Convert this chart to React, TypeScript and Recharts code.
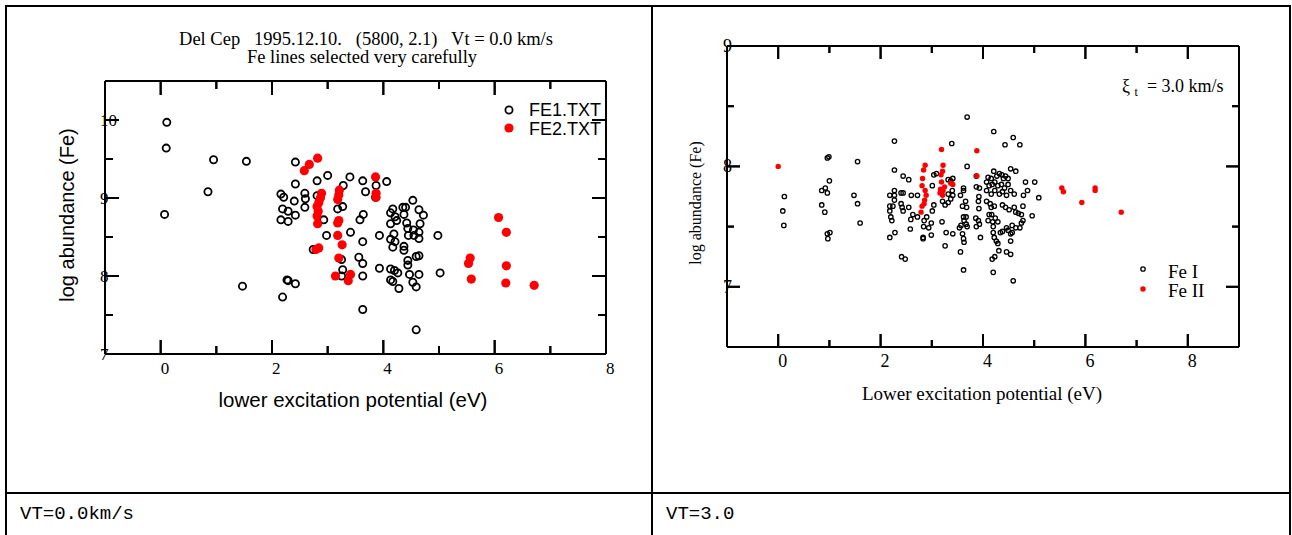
import React from 'react';
import { ScatterChart, Scatter, XAxis, YAxis } from 'recharts';

const SERIF = '"Liberation Serif", "Times New Roman", serif';
const SANS = '"Liberation Sans", Arial, sans-serif';
const MONO = '"Liberation Mono", "Courier New", monospace';

// ─── Data: Vt = 0.0 km/s (left panel) ─────────────────────────────────────────

const fe1Vt0: [number, number][] = [
  [0.11, 9.97], [0.1, 9.64], [0.95, 9.49], [1.54, 9.47], [2.42, 9.46], [0.85, 9.08],
  [2.42, 9.18], [2.81, 9.22], [3.0, 9.29], [3.4, 9.27], [3.63, 9.22], [3.87, 9.16],
  [4.06, 9.21], [3.28, 9.16], [2.16, 9.05], [2.59, 9.06], [4.53, 8.97], [3.68, 9.08],
  [0.07, 8.79], [2.21, 9.01], [2.6, 8.99], [2.4, 8.96], [2.19, 8.86], [2.29, 8.83],
  [2.42, 8.78], [2.59, 8.88], [2.16, 8.72], [2.29, 8.7], [2.81, 9.03], [2.93, 8.72],
  [2.98, 8.52], [3.18, 8.86], [3.27, 8.89], [3.41, 8.56], [3.86, 9.01], [3.64, 8.79],
  [3.58, 8.72], [3.63, 8.44], [3.93, 8.52], [2.74, 8.34], [3.25, 8.21], [3.27, 8.08],
  [3.25, 8.0], [3.56, 8.24], [3.63, 8.16], [3.63, 8.0], [3.93, 8.1], [1.47, 7.87],
  [2.27, 7.95], [2.29, 7.94], [2.42, 7.9], [2.19, 7.73], [3.63, 7.57], [4.59, 7.31],
  [5.02, 8.04], [4.98, 8.52],
  [4.13, 8.81], [4.17, 8.86], [4.21, 8.76], [4.13, 8.67], [4.24, 8.71], [4.35, 8.88],
  [4.4, 8.88], [4.37, 8.79], [4.42, 8.68], [4.44, 8.61], [4.64, 8.85], [4.72, 8.78],
  [4.66, 8.67], [4.54, 8.59], [4.64, 8.56], [4.45, 8.52], [4.55, 8.52], [4.64, 8.48],
  [4.19, 8.54], [4.13, 8.47], [4.21, 8.44], [4.17, 8.37], [4.37, 8.38], [4.37, 8.33],
  [4.59, 8.25], [4.64, 8.26], [4.44, 8.2], [4.44, 8.14], [4.13, 8.09], [4.2, 8.07],
  [4.26, 8.04], [4.47, 8.02], [4.64, 8.02], [4.13, 7.95], [4.17, 7.93], [4.28, 7.84],
  [4.53, 7.92], [4.59, 7.86],
];

const fe2Vt0: [number, number][] = [
  [2.58, 9.35], [2.67, 9.43], [2.82, 9.51], [3.86, 9.27], [2.89, 9.06], [3.21, 9.1],
  [3.87, 9.06], [3.87, 9.01], [2.87, 9.0], [2.84, 8.94], [2.81, 8.89], [2.83, 8.83],
  [2.81, 8.77], [2.82, 8.67], [3.2, 9.04], [3.18, 8.98], [3.2, 8.71], [3.18, 8.68],
  [3.18, 8.52], [3.26, 8.4], [3.2, 8.23], [2.79, 8.34], [2.84, 8.36], [3.14, 8.0],
  [3.41, 8.02], [3.37, 7.94], [6.07, 8.75], [6.21, 8.56], [5.56, 8.23], [5.53, 8.16],
  [5.58, 7.96], [6.21, 8.13], [6.2, 7.91], [6.71, 7.88],
];

// ─── Data: Vt = 3.0 km/s (right panel) ────────────────────────────────────────

const feIVt3: [number, number][] = [
  [3.69, 8.41], [4.21, 8.29], [4.59, 8.24], [4.43, 8.18], [4.72, 8.18], [2.27, 8.21],
  [3.39, 8.19], [1.55, 8.04], [0.96, 8.07], [0.99, 8.08], [3.69, 8.0], [2.27, 7.97],
  [2.44, 7.92], [2.55, 7.89], [3.04, 7.93], [3.09, 7.94], [3.87, 7.92], [4.21, 7.96],
  [4.27, 7.92], [4.32, 7.94], [4.37, 7.93], [4.44, 7.92], [4.54, 7.98], [4.64, 7.96],
  [4.49, 7.9], [4.1, 7.91], [4.16, 7.9], [4.4, 7.9], [3.41, 7.9], [3.37, 7.88],
  [3.32, 7.89], [1.0, 7.88],
  [0.12, 7.75], [0.09, 7.63], [0.11, 7.51], [0.85, 7.8], [0.92, 7.82], [0.96, 7.78],
  [0.85, 7.68], [0.91, 7.62], [0.96, 7.44], [1.01, 7.45], [0.97, 7.4], [1.48, 7.76],
  [1.55, 7.69], [1.6, 7.53],
  [2.18, 7.76], [2.27, 7.8], [2.27, 7.76], [2.27, 7.72], [2.18, 7.67], [2.24, 7.67],
  [2.18, 7.63], [2.2, 7.58], [2.22, 7.55], [2.28, 7.45], [2.18, 7.41], [2.4, 7.78],
  [2.44, 7.78], [2.4, 7.69], [2.42, 7.66], [2.44, 7.63], [2.41, 7.25], [2.48, 7.23],
  [2.6, 7.76], [2.55, 7.66], [2.63, 7.6], [2.59, 7.56], [2.58, 7.48], [2.72, 7.58],
  [2.72, 7.76],
  [2.83, 7.41], [2.83, 7.4], [2.85, 7.55], [2.84, 7.5], [2.9, 7.58], [2.94, 7.49],
  [2.99, 7.53], [2.99, 7.43], [3.01, 7.63], [3.04, 7.68], [3.01, 7.84],
  [3.2, 7.54], [3.28, 7.45], [3.41, 7.44], [3.26, 7.34], [3.21, 7.71], [3.26, 7.68],
  [3.32, 7.7], [3.37, 7.73], [3.41, 7.76], [3.4, 7.8], [3.32, 7.77], [3.56, 7.76],
  [3.62, 7.8], [3.66, 7.71], [3.6, 7.67], [3.68, 7.66], [3.62, 7.58], [3.67, 7.58],
  [3.63, 7.55], [3.57, 7.51], [3.67, 7.52], [3.69, 7.5], [3.54, 7.49], [3.6, 7.44],
  [3.62, 7.4], [3.63, 7.37], [3.56, 7.29], [3.62, 7.14], [3.62, 7.82],
  [3.87, 7.83], [3.93, 7.82], [3.92, 7.75], [3.91, 7.71], [3.92, 7.65], [3.86, 7.57],
  [3.91, 7.55], [3.93, 7.52], [3.87, 7.5], [3.95, 7.41],
  [4.07, 7.87], [4.12, 7.84], [4.18, 7.85], [4.23, 7.87], [4.29, 7.84], [4.36, 7.85],
  [4.42, 7.82], [4.49, 7.85], [4.54, 7.8], [4.61, 7.77], [4.07, 7.8], [4.16, 7.77],
  [4.23, 7.8], [4.32, 7.77], [4.38, 7.79], [4.46, 7.76], [4.07, 7.71], [4.14, 7.69],
  [4.22, 7.67], [4.16, 7.66], [4.38, 7.68], [4.44, 7.66], [4.51, 7.64], [4.61, 7.66],
  [4.64, 7.62], [4.12, 7.6], [4.17, 7.6], [4.24, 7.57], [4.29, 7.54], [4.1, 7.55],
  [4.19, 7.54], [4.2, 7.5], [4.2, 7.45], [4.22, 7.41], [4.26, 7.38], [4.29, 7.36],
  [4.34, 7.45], [4.38, 7.46], [4.46, 7.49], [4.49, 7.47], [4.57, 7.51], [4.54, 7.44],
  [4.54, 7.38], [4.57, 7.45], [4.31, 7.3], [4.18, 7.23], [4.23, 7.25], [4.46, 7.29],
  [4.54, 7.27], [4.2, 7.12], [4.59, 7.05], [4.69, 7.61], [4.75, 7.6], [4.78, 7.55],
  [4.72, 7.49], [4.64, 7.49], [4.75, 7.53], [4.79, 7.76], [4.87, 7.8], [4.96, 7.59],
  [5.09, 7.74], [4.78, 7.67], [4.83, 7.87], [5.01, 7.87],
];

const feIIVt3: [number, number][] = [
  [0.0, 8.0], [3.19, 8.14], [3.88, 8.13], [2.87, 8.01], [2.84, 7.97], [3.22, 8.01],
  [3.21, 7.96], [3.18, 7.93], [3.88, 7.92], [2.82, 7.9], [2.81, 7.84], [2.87, 7.8],
  [2.89, 7.76], [2.85, 7.69], [2.81, 7.67], [2.79, 7.62], [3.19, 7.87], [3.22, 7.8],
  [3.21, 7.76], [3.41, 7.85], [3.37, 7.86], [3.17, 7.81], [3.16, 7.78], [2.86, 7.72],
  [3.25, 7.83], [5.54, 7.82], [5.57, 7.79], [6.19, 7.82], [6.19, 7.8], [5.93, 7.7],
  [6.7, 7.62],
];

// ─── Ticks ────────────────────────────────────────────────────────────────────

const leftXMajor = [0, 2, 4, 6, 8];
const leftXMinor = [1, 3, 5, 7];
const leftYMajor = [7, 8, 9, 10];
const leftYMinor = [7.5, 8.5, 9.5];
const rightXMajor = [0, 2, 4, 6, 8];
const rightXMinor = [1, 3, 5, 7];
const rightYMajor = [7, 8, 9];
const rightYMinor = [7.5, 8.5];

const pts = (arr: [number, number][]) => arr.map(([x, y]) => ({ x, y }));

type Dir = 'up' | 'down' | 'right' | 'left';
interface Mark { x: number; y: number; dir: Dir; len: number }

// inward tick marks on all four sides of the frame
function frameMarks(
  xd: [number, number], yd: [number, number],
  xMaj: number[], xMin: number[], yMaj: number[], yMin: number[],
  long: number, short: number,
): Mark[] {
  const m: Mark[] = [];
  for (const [vals, len] of [[xMaj, long], [xMin, short]] as [number[], number][]) {
    vals.forEach((v) => {
      m.push({ x: v, y: yd[0], dir: 'up', len });
      m.push({ x: v, y: yd[1], dir: 'down', len });
    });
  }
  for (const [vals, len] of [[yMaj, long], [yMin, short]] as [number[], number][]) {
    vals.forEach((v) => {
      m.push({ x: xd[0], y: v, dir: 'right', len });
      m.push({ x: xd[1], y: v, dir: 'left', len });
    });
  }
  return m;
}

const W = 2;
function markRect(cx: number, cy: number, dir: Dir, len: number, key?: number) {
  if (dir === 'up') return <rect key={key} x={cx - W / 2} y={cy - len} width={W} height={len} fill="#000" />;
  if (dir === 'down') return <rect key={key} x={cx - W / 2} y={cy} width={W} height={len} fill="#000" />;
  if (dir === 'right') return <rect key={key} x={cx} y={cy - W / 2} width={len} height={W} fill="#000" />;
  return <rect key={key} x={cx - len} y={cy - W / 2} width={len} height={W} fill="#000" />;
}

const markShape = (p: any) => {
  const { dir, len } = p.payload as Mark;
  return markRect(p.cx, p.cy, dir, len);
};

// same marks again on the page overlay, with the panel's plot box and domains
interface Box { left: number; top: number; width: number; height: number }
function overlayMarks(marks: Mark[], box: Box, xd: [number, number], yd: [number, number]) {
  const sx = (v: number) => box.left + ((v - xd[0]) / (xd[1] - xd[0])) * box.width;
  const sy = (v: number) => box.top + box.height - ((v - yd[0]) / (yd[1] - yd[0])) * box.height;
  return marks.map((m, i) => markRect(sx(m.x), sy(m.y), m.dir, m.len, i));
}

function bottomLabel(dy: number, fontSize: number) {
  return (props: any) => (
    <text x={props.x} y={props.y + dy} textAnchor="start" fontFamily={SERIF} fontSize={fontSize} fill="#000">
      {props.payload.value}
    </text>
  );
}

function leftLabel(dx: number, fontSize: number) {
  return (props: any) => (
    <text x={props.x - dx} y={props.y} textAnchor="start" dominantBaseline="central" fontFamily={SERIF} fontSize={fontSize} fill="#000">
      {props.payload.value}
    </text>
  );
}

const axisLine = { stroke: '#000', strokeWidth: 2 };
const base = { type: 'number' as const, allowDataOverflow: true, tickMargin: 0, tickSize: 0, tickLine: false, interval: 0 as const, axisLine };

// ─── Panels ───────────────────────────────────────────────────────────────────

const LX: [number, number] = [-1, 8];
const LY: [number, number] = [7, 10.5];
const RX: [number, number] = [-1, 9];
const RY: [number, number] = [6.5, 9];
const leftMarks = frameMarks(LX, LY, leftXMajor, leftXMinor, leftYMajor, leftYMinor, 14, 8);
const rightMarks = frameMarks(RX, RY, rightXMajor, rightXMinor, rightYMajor, rightYMinor, 13, 7);
const leftBox: Box = { left: 105, top: 81, width: 501, height: 273 };
const rightBox: Box = { left: 652 + 75, top: 46, width: 512, height: 301 };

function LeftPanel() {
  return (
    <ScatterChart width={652} height={490} margin={{ top: 80, right: 45, bottom: 135, left: 104 }}>
      <XAxis {...base} dataKey="x" xAxisId="b" orientation="bottom" height={1} domain={LX} ticks={leftXMajor} tick={bottomLabel(20, 17)} />
      <XAxis {...base} dataKey="x" xAxisId="t" orientation="top" height={1} domain={LX} ticks={leftXMajor} tick={false} />
      <YAxis {...base} dataKey="y" yAxisId="l" orientation="left" width={1} domain={LY} ticks={leftYMajor} tick={leftLabel(5, 17)} />
      <YAxis {...base} dataKey="y" yAxisId="r" orientation="right" width={1} domain={LY} ticks={leftYMajor} tick={false} />
      <Scatter data={leftMarks} xAxisId="b" yAxisId="l" isAnimationActive={false} shape={markShape} />
      <Scatter data={pts(fe1Vt0)} xAxisId="b" yAxisId="l" isAnimationActive={false}
        shape={(p: any) => <circle cx={p.cx} cy={p.cy} r={3.6} fill="none" stroke="#000" strokeWidth={1.8} />} />
      <Scatter data={pts(fe2Vt0)} xAxisId="b" yAxisId="l" isAnimationActive={false}
        shape={(p: any) => <circle cx={p.cx} cy={p.cy} r={4.6} fill="#ff0000" />} />
    </ScatterChart>
  );
}

function RightPanel() {
  return (
    <ScatterChart width={637} height={490} margin={{ top: 45, right: 49, bottom: 142, left: 74 }}>
      <XAxis {...base} dataKey="x" xAxisId="b" orientation="bottom" height={1} domain={RX} ticks={rightXMajor} tick={bottomLabel(20, 18)} />
      <XAxis {...base} dataKey="x" xAxisId="t" orientation="top" height={1} domain={RX} ticks={rightXMajor} tick={false} />
      <YAxis {...base} dataKey="y" yAxisId="l" orientation="left" width={1} domain={RY} ticks={rightYMajor} tick={leftLabel(4, 18)} />
      <YAxis {...base} dataKey="y" yAxisId="r" orientation="right" width={1} domain={RY} ticks={rightYMajor} tick={false} />
      <Scatter data={rightMarks} xAxisId="b" yAxisId="l" isAnimationActive={false} shape={markShape} />
      <Scatter data={pts(feIVt3)} xAxisId="b" yAxisId="l" isAnimationActive={false}
        shape={(p: any) => <circle cx={p.cx} cy={p.cy} r={2.2} fill="none" stroke="#000" strokeWidth={1.3} />} />
      <Scatter data={pts(feIIVt3)} xAxisId="b" yAxisId="l" isAnimationActive={false}
        shape={(p: any) => <circle cx={p.cx} cy={p.cy} r={2.7} fill="#ff0000" />} />
    </ScatterChart>
  );
}

// ─── Page ─────────────────────────────────────────────────────────────────────

export default function App() {
  return (
    <div style={{ position: 'absolute', left: 0, top: 0, width: 1292, height: 535, background: '#fff', overflow: 'hidden' }}>
      <div style={{ position: 'absolute', left: 0, top: 0 }}>
        <LeftPanel />
      </div>
      <div style={{ position: 'absolute', left: 652, top: 0 }}>
        <RightPanel />
      </div>
      <svg width={1292} height={535} style={{ position: 'absolute', left: 0, top: 0, pointerEvents: 'none' }}>
        {/* table lines */}
        <rect x={5} y={5} width={1286} height={2} fill="#000" />
        <rect x={5} y={5} width={2} height={530} fill="#000" />
        <rect x={1289} y={5} width={2} height={530} fill="#000" />
        <rect x={651} y={5} width={2} height={530} fill="#000" />
        <rect x={5} y={492} width={1286} height={2} fill="#000" />

        {/* frame ticks */}
        <g>{overlayMarks(leftMarks, leftBox, LX, LY)}</g>
        <g>{overlayMarks(rightMarks, rightBox, RX, RY)}</g>

        {/* left panel texts */}
        <text x={366} y={45} textAnchor="middle" fontFamily={SERIF} fontSize={18.5} style={{ whiteSpace: 'pre' }}>
          {'Del Cep   1995.12.10.   (5800, 2.1)   Vt = 0.0 km/s'}
        </text>
        <text x={362} y={63} textAnchor="middle" fontFamily={SERIF} fontSize={18.5}>
          Fe lines selected very carefully
        </text>
        <text x={0} y={0} transform="translate(67,215) rotate(-90)" textAnchor="middle" dominantBaseline="central" fontFamily={SANS} fontSize={20}>
          log abundance (Fe)
        </text>
        <text x={353} y={407} textAnchor="middle" fontFamily={SANS} fontSize={20.5}>
          lower excitation potential (eV)
        </text>
        <circle cx={509} cy={110} r={3.6} fill="none" stroke="#000" strokeWidth={1.8} />
        <text x={529} y={116} fontFamily={SANS} fontSize={18}>FE1.TXT</text>
        <circle cx={509} cy={128} r={4.6} fill="#ff0000" />
        <text x={529} y={135} fontFamily={SANS} fontSize={18}>FE2.TXT</text>

        {/* right panel texts */}
        <text x={0} y={0} transform="translate(695,203) rotate(-90)" textAnchor="middle" dominantBaseline="central" fontFamily={SERIF} fontSize={16}>
          log abundance (Fe)
        </text>
        <text x={982} y={400} textAnchor="middle" fontFamily={SERIF} fontSize={19}>
          Lower excitation potential (eV)
        </text>
        <text x={1122} y={92} fontFamily={SERIF} fontSize={18} style={{ whiteSpace: 'pre' }}>
          {'ξ '}
          <tspan fontSize={12} dy={4}>t</tspan>
          <tspan dy={-4}>{'  = 3.0 km/s'}</tspan>
        </text>
        <circle cx={1143} cy={269} r={2.2} fill="none" stroke="#000" strokeWidth={1.3} />
        <text x={1168} y={278} fontFamily={SERIF} fontSize={19}>Fe I</text>
        <circle cx={1143} cy={289} r={2.7} fill="#ff0000" />
        <text x={1168} y={297} fontFamily={SERIF} fontSize={19}>Fe II</text>

        {/* bottom row */}
        <text x={20} y={519} fontFamily={MONO} fontSize={19}>VT=0.0km/s</text>
        <text x={666} y={519} fontFamily={MONO} fontSize={19}>VT=3.0</text>
      </svg>
    </div>
  );
}
